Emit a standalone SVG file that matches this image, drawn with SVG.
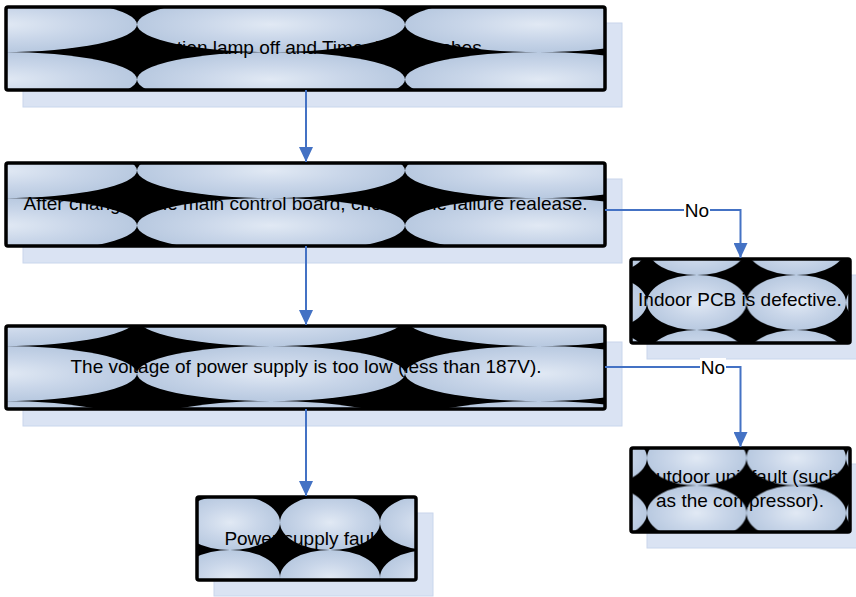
<svg xmlns="http://www.w3.org/2000/svg" width="856" height="597" viewBox="0 0 856 597">
<style>
.sh{fill:#dae3f3;stroke:#c9d6ec;stroke-width:1}
.bx{stroke:#000;stroke-width:3.5}
.t{font-family:"Liberation Sans",Arial,sans-serif;font-size:19px;fill:#000;text-anchor:middle}
.c{fill:none;stroke:#4472c4;stroke-width:2}
.lb{fill:#fff}
</style>
<defs>
<radialGradient id="g" cx="50%" cy="50%" r="50%">
<stop offset="0" stop-color="#e1e9f4"/>
<stop offset="0.55" stop-color="#c9d6e9"/>
<stop offset="1" stop-color="#b8c9e0"/>
</radialGradient>
<pattern id="p1" patternUnits="userSpaceOnUse" x="137" y="-3" width="268" height="55"><rect width="268" height="55" fill="#000"/><ellipse cx="134" cy="27.5" rx="134" ry="27.5" fill="url(#g)"/></pattern>
<pattern id="p2" patternUnits="userSpaceOnUse" x="137" y="198" width="268" height="55"><rect width="268" height="55" fill="#000"/><ellipse cx="134" cy="27.5" rx="134" ry="27.5" fill="url(#g)"/></pattern>
<pattern id="p3" patternUnits="userSpaceOnUse" x="137" y="346" width="268" height="55"><rect width="268" height="55" fill="#000"/><ellipse cx="134" cy="27.5" rx="134" ry="27.5" fill="url(#g)"/></pattern>
<pattern id="p4" patternUnits="userSpaceOnUse" x="280" y="550" width="100" height="55"><rect width="100" height="55" fill="#000"/><ellipse cx="50" cy="27.5" rx="50" ry="27.5" fill="url(#g)"/></pattern>
<pattern id="p5" patternUnits="userSpaceOnUse" x="647" y="275" width="99.5" height="55"><rect width="99.5" height="55" fill="#000"/><ellipse cx="49.75" cy="27.5" rx="49.75" ry="27.5" fill="url(#g)"/></pattern>
<pattern id="p6" patternUnits="userSpaceOnUse" x="647" y="485.5" width="99.5" height="55"><rect width="99.5" height="55" fill="#000"/><ellipse cx="49.75" cy="27.5" rx="49.75" ry="27.5" fill="url(#g)"/></pattern>
<marker id="ah" markerUnits="userSpaceOnUse" markerWidth="15" markerHeight="14" refX="15" refY="7" orient="auto"><path d="M0,0 L15,7 L0,14 z" fill="#4472c4"/></marker>
</defs>

<g id="n1">
<rect class="sh" x="23" y="23" width="599" height="84"/>
<rect class="bx" x="6" y="7" width="599" height="83" rx="2" fill="url(#p1)"/>
<text class="t" x="305.5" y="53.5">Operation lamp off and Timer lamp flashes.</text>
</g>
<g id="n2">
<rect class="sh" x="23" y="179" width="599" height="84"/>
<rect class="bx" x="6" y="163" width="599" height="83" rx="2" fill="url(#p2)"/>
<text class="t" x="305.5" y="209.5">After changing the main control board, check if the failure realease.</text>
</g>
<g id="n3">
<rect class="sh" x="23" y="342" width="599" height="84"/>
<rect class="bx" x="6" y="326" width="599" height="83" rx="2" fill="url(#p3)"/>
<text class="t" x="306" y="373">The voltage of power supply is too low (less than 187V).</text>
</g>
<g id="n4">
<rect class="sh" x="214" y="513" width="219" height="83"/>
<rect class="bx" x="197" y="497" width="219" height="83" rx="2" fill="url(#p4)"/>
<text class="t" x="302" y="544.5">Power supply fault</text>
</g>
<g id="n5">
<rect class="sh" x="647" y="275" width="219" height="84"/>
<rect class="bx" x="631" y="259" width="219" height="84" rx="2" fill="url(#p5)"/>
<text class="t" x="740" y="305.5">Indoor PCB is defective.</text>
</g>
<g id="n6">
<rect class="sh" x="647" y="464" width="219" height="84"/>
<rect class="bx" x="631" y="448" width="219" height="84" rx="2" fill="url(#p6)"/>
<text class="t" x="740" y="483">Outdoor unit fault (such</text>
<text class="t" x="740" y="507">as the compressor).</text>
</g>

<g id="connectors">
<path class="c" d="M306,90 V162" marker-end="url(#ah)"/>
<path class="c" d="M306,246 V325" marker-end="url(#ah)"/>
<path class="c" d="M306,409 V496" marker-end="url(#ah)"/>
<path class="c" d="M605,210 H740.5 V258" marker-end="url(#ah)"/>
<path class="c" d="M605,367 H740.5 V447" marker-end="url(#ah)"/>
<rect class="lb" x="684" y="201" width="26" height="19"/>
<text class="t" x="697" y="216.5">No</text>
<rect class="lb" x="700" y="358" width="26" height="19"/>
<text class="t" x="713" y="373.5">No</text>
</g>
</svg>
